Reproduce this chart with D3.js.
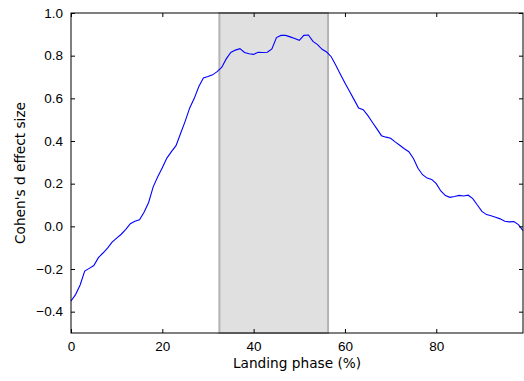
<!DOCTYPE html>
<html>
<head>
<meta charset="utf-8">
<script src="https://cdn.jsdelivr.net/npm/d3@7"></script>
<style>
  body { margin: 0; background: #fff; }
  svg { display: block; font-family: "DejaVu Sans", sans-serif; }
</style>
</head>
<body>
<svg width="524" height="381"></svg>
<script>
// landing phase (%) 0..99
const phase = d3.range(0, 100);
// Cohen's d at each phase point
const cohensD = [
  -0.35, -0.32, -0.275, -0.21, -0.197, -0.184, -0.147, -0.125, -0.102, -0.074,
  -0.055, -0.037, -0.014, 0.012, 0.024, 0.031, 0.066, 0.112, 0.185, 0.232,
  0.275, 0.32, 0.35, 0.378, 0.435, 0.492, 0.555, 0.6, 0.655, 0.695,
  0.702, 0.71, 0.725, 0.745, 0.785, 0.815, 0.826, 0.833, 0.815, 0.809,
  0.806, 0.816, 0.815, 0.816, 0.832, 0.885, 0.895, 0.895, 0.888, 0.88,
  0.872, 0.895, 0.897, 0.867, 0.852, 0.83, 0.817, 0.795, 0.755, 0.713,
  0.672, 0.633, 0.594, 0.555, 0.547, 0.52, 0.488, 0.457, 0.425, 0.418,
  0.413, 0.396, 0.38, 0.364, 0.35, 0.318, 0.272, 0.242, 0.226, 0.22,
  0.2, 0.166, 0.144, 0.136, 0.14, 0.145, 0.142, 0.146, 0.13, 0.1,
  0.07, 0.055, 0.05, 0.043, 0.035, 0.024, 0.021, 0.022, 0.008, -0.02
];
// shaded region
const spanRange = [32.5, 56.3];
const xTicks = [0, 20, 40, 60, 80];
const yTicks = [-0.4, -0.2, 0.0, 0.2, 0.4, 0.6, 0.8, 1.0];

const svg = d3.select("svg");
const m = { left: 71, right: 1, top: 13, bottom: 48 };
const W = 524, H = 381;

const x = d3.scaleLinear().domain([0, 99]).range([m.left, W - m.right]);
const y = d3.scaleLinear().domain([-0.5, 1.0]).range([H - m.bottom, m.top]);

const fmtY = d => d3.format(".1f")(d).replace("-", "\u2212");

// zona sombreada
svg.append("rect")
  .attr("x", x(spanRange[0]))
  .attr("y", y(1.0))
  .attr("width", x(spanRange[1]) - x(spanRange[0]))
  .attr("height", y(-0.5) - y(1.0))
  .attr("fill", "#e0e0e0")
  .attr("stroke", "#b3b3b3")
  .attr("stroke-width", 2);

// curva
const line = d3.line()
  .x((d, i) => x(phase[i]))
  .y(d => y(d));

svg.append("path")
  .datum(cohensD)
  .attr("d", line)
  .attr("fill", "none")
  .attr("stroke", "#0000ff")
  .attr("stroke-width", 1.1);

// ejes con ticks hacia dentro
const tickLen = 4;
const xAxis = svg.append("g")
  .attr("transform", `translate(0,${y(-0.5)})`)
  .call(d3.axisBottom(x).tickValues(xTicks).tickSize(-tickLen).tickPadding(8));
const xTop = svg.append("g")
  .attr("transform", `translate(0,${y(1.0)})`)
  .call(d3.axisTop(x).tickValues(xTicks).tickSize(-tickLen).tickFormat(""));
const yAxis = svg.append("g")
  .attr("transform", `translate(${x(0)},0)`)
  .call(d3.axisLeft(y).tickValues(yTicks).tickSize(-tickLen).tickPadding(8).tickFormat(fmtY));
const yRight = svg.append("g")
  .attr("transform", `translate(${x(99)},0)`)
  .call(d3.axisRight(y).tickValues(yTicks).tickSize(-tickLen).tickFormat(""));

[xAxis, xTop, yAxis, yRight].forEach(g => {
  g.select(".domain").remove();
  g.selectAll("line").attr("stroke", "#000");
  g.selectAll("text").attr("fill", "#000").style("font-size", "13.5px");
});

// marco
svg.append("rect")
  .attr("x", x(0))
  .attr("y", y(1.0))
  .attr("width", x(99) - x(0))
  .attr("height", y(-0.5) - y(1.0))
  .attr("fill", "none")
  .attr("stroke", "#000")
  .attr("stroke-width", 1);

// etiquetas
svg.append("text")
  .attr("x", (x(0) + x(99)) / 2)
  .attr("y", 368)
  .attr("text-anchor", "middle")
  .style("font-size", "13.7px")
  .text("Landing phase (%)");

svg.append("text")
  .attr("transform", `translate(25,${(y(1.0) + y(-0.5)) / 2}) rotate(-90)`)
  .attr("text-anchor", "middle")
  .style("font-size", "13.7px")
  .text("Cohen's d effect size");
</script>
</body>
</html>
